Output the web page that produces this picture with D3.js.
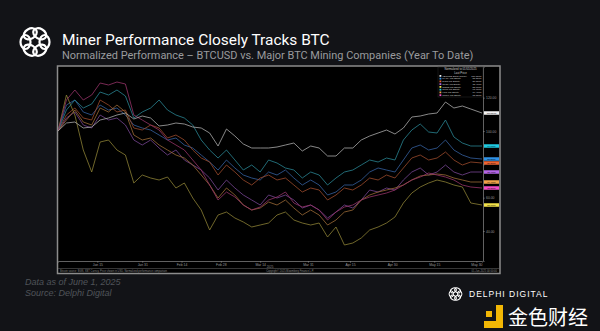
<!DOCTYPE html>
<html>
<head>
<meta charset="utf-8">
<script src="https://cdn.jsdelivr.net/npm/d3@7"></script>
<style>
  body { margin: 0; background: #121317; }
  svg { display: block; }
</style>
</head>
<body>
<svg id="chart"></svg>
<script>
// sample dates (every 3 days, Jan 1 -> Jun 1)
var dates = ["2025-01-01","2025-01-04","2025-01-07","2025-01-10","2025-01-13","2025-01-16","2025-01-19","2025-01-22","2025-01-25","2025-01-28",
  "2025-01-31","2025-02-03","2025-02-06","2025-02-09","2025-02-12","2025-02-15","2025-02-18","2025-02-21","2025-02-24","2025-02-27",
  "2025-03-02","2025-03-05","2025-03-08","2025-03-11","2025-03-14","2025-03-17","2025-03-20","2025-03-23","2025-03-26","2025-03-29",
  "2025-04-01","2025-04-04","2025-04-07","2025-04-10","2025-04-13","2025-04-16","2025-04-19","2025-04-22","2025-04-25","2025-04-28",
  "2025-05-01","2025-05-04","2025-05-07","2025-05-10","2025-05-13","2025-05-16","2025-05-19","2025-05-22","2025-05-25","2025-05-28","2025-06-01"];

// normalized performance (start = 100)
var btc  = [100,104.8,105.4,101.8,102.4,106.6,107.8,109.6,110.8,107.2,109.0,107.8,103.0,103.6,104.8,104.2,102.4,101.8,98.8,91.0,
  101.2,97.0,92.2,89.8,89.8,89.8,90.4,91.6,92.8,88.0,91.0,89.8,85.0,85.0,89.8,89.8,94.6,97.0,98.8,100.6,
  98.2,101.8,108.4,109.0,110.2,110.8,117.4,113.8,115.0,113.2,110.8];
var mara = [100,115.6,118.6,111.4,109.6,115.6,112.6,113.8,109.6,103.6,101.8,100.6,97.6,94.6,95.8,91.6,89.8,85.6,81.4,76.6,
  82.6,77.8,73.6,71.8,70.6,75.4,73.6,76.6,71.8,67.6,70.6,67.6,61.6,63.4,67.6,67.6,70.6,75.4,77.8,76.6,
  75.4,82.6,89.8,91.6,88.6,89.8,94.6,88.6,85.6,83.8,83.2];
var riot = [100,109.6,113.8,107.8,106.6,118.6,115.6,111.4,112.6,101.8,100.6,103.6,101.8,95.8,97.6,94.6,88.6,83.8,81.4,73.6,
  79.6,75.4,70.6,67.6,71.8,73.6,70.6,71.8,67.6,63.4,65.8,64.6,58.6,61.6,65.8,64.6,67.6,71.8,70.6,73.6,
  71.8,77.8,83.8,85.6,82.6,83.8,87.4,82.6,79.6,81.4,80.8];
var clsk = [100,107.8,111.4,103.6,101.8,109.6,106.6,107.8,103.6,94.6,91.6,94.6,89.8,85.6,88.6,82.6,79.6,76.6,71.8,64.6,
  70.6,65.8,61.6,58.6,55.6,61.6,59.8,61.6,58.6,53.8,55.6,52.6,47.8,51.4,55.6,53.8,58.6,64.6,63.4,65.8,
  64.6,70.6,75.4,77.8,73.6,75.4,79.6,75.4,73.6,75.4,75.4];
var corz = [100,121.6,109.6,88.6,75.4,93.4,94.6,88.6,85.6,68.8,73.6,71.8,70.6,72.4,65.8,68.8,59.8,52.6,40.6,49.6,
  51.4,47.8,45.4,42.4,43.6,44.8,49.6,51.4,46.6,44.8,43.6,44.8,36.4,42.4,31.6,32.8,35.8,40.6,42.4,44.8,
  48.4,56.8,62.8,66.4,68.8,70.6,69.4,67.6,66.4,56.8,55.6];
var cifr = [100,112.6,118.6,113.8,116.2,123.4,121.6,124.6,121.0,107.8,111.4,113.8,118.6,112.6,109.6,107.8,103.6,94.6,88.6,83.8,
  88.6,82.6,76.6,79.6,75.4,82.6,80.8,77.8,76.6,71.8,75.4,73.6,67.6,71.8,75.4,76.6,79.6,82.6,81.4,83.8,
  82.6,94.6,100.6,104.2,99.4,98.8,106.6,96.4,92.8,91.0,91.0];
var hut  = [100,106.6,112.6,105.4,103.6,113.8,111.4,115.6,111.4,97.6,94.6,95.8,91.6,88.6,85.6,83.8,79.6,73.6,67.6,59.8,
  65.8,61.6,55.6,52.6,53.8,57.4,55.6,58.6,53.8,49.6,52.6,49.6,43.6,46.6,51.4,52.6,58.6,61.6,63.4,64.6,
  65.8,67.6,70.6,73.0,73.6,74.2,73.6,71.8,70.6,69.4,69.4];
var wulf = [100,118.6,124.6,118.6,121.6,128.8,127.6,129.4,128.2,109.6,106.6,103.6,100.6,94.6,91.6,88.6,82.6,76.6,67.6,58.6,
  63.4,60.4,55.6,52.6,54.4,58.6,60.4,63.4,56.8,54.4,55.6,52.6,46.6,51.4,54.4,55.6,58.6,60.4,61.6,62.8,
  64.6,67.6,70.6,72.4,74.8,73.6,72.4,70.6,67.6,66.4,65.8];

var seriesNames = ["XBTUSD BGN Curncy","MARA US Equity","RIOT US Equity","CLSK US Equity","CORZ US Equity","CIFR US Equity","HUT US Equity","WULF US Equity"];
var seriesValues = [btc, mara, riot, clsk, corz, cifr, hut, wulf];
var lineColors = ["#a9a9a9","#35609e","#9a4a2c","#764592","#8c8035","#2a8492","#9a6a36","#953468"];
var boxColors  = ["#f2f2f2","#2f92e6","#ec6433","#b466e6","#f1e14a","#1fc9e0","#f0a24a","#f14cc4"];

var yTicks = [40, 60, 80, 100, 120];
var xTickDates  = ["2025-01-15","2025-01-31","2025-02-14","2025-02-28","2025-03-14","2025-03-31","2025-04-15","2025-04-30","2025-05-15","2025-05-30"];
var xTickLabels = ["Jan 15","Jan 31","Feb 14","Feb 28","Mar 14","Mar 31","Apr 15","Apr 30","May 15","May 30"];

var width = 600, height = 331;
var parse = d3.timeParse("%Y-%m-%d");

var svg = d3.select("#chart")
  .attr("width", width)
  .attr("height", height)
  .style("font-family", "'Liberation Sans', Arial, sans-serif");

svg.append("rect").attr("width", width).attr("height", height).attr("fill", "#121317");

// fit a text to a target width by scaling its font size
function fitText(sel, target) {
  var fs = parseFloat(sel.style("font-size"));
  var w = sel.node().getComputedTextLength();
  sel.style("font-size", (fs * target / w) + "px");
}

// ---- header logo (ring of loops)
var logo = svg.append("g").attr("transform", "translate(35,42)");
d3.range(6).forEach(function(i) {
  var a = i * Math.PI / 3;
  logo.append("ellipse")
    .attr("cx", Math.cos(a) * 9.5).attr("cy", Math.sin(a) * 9.5)
    .attr("rx", 7).attr("ry", 5)
    .attr("transform", "rotate(" + (i * 60 + 90) + "," + (Math.cos(a) * 9.5) + "," + (Math.sin(a) * 9.5) + ")")
    .attr("fill", "none").attr("stroke", "#fff").attr("stroke-width", 2.2);
});

var title = svg.append("text").attr("x", 62).attr("y", 45)
  .attr("fill", "#fff").style("font-family", "Roboto, sans-serif").style("font-size", "17px")
  .text("Miner Performance Closely Tracks BTC");
fitText(title, 268);
var sub = svg.append("text").attr("x", 62).attr("y", 59)
  .attr("fill", "#9a9b9e").style("font-family", "Roboto, sans-serif").style("font-size", "11.5px")
  .text("Normalized Performance \u2013 BTCUSD vs. Major BTC Mining Companies (Year To Date)");
fitText(sub, 412);

// ---- bloomberg-style frame
svg.append("rect").attr("x", 57.5).attr("y", 66).attr("width", 442.5).attr("height", 207.5)
  .attr("fill", "#000").attr("stroke", "#8c8c8c").attr("stroke-width", 1.5);

var x = d3.scaleTime().domain([parse("2025-01-01"), parse("2025-06-01")]).range([58, 482]);
var y = d3.scaleLinear().domain([22, 138.4]).range([261, 67]);

svg.append("clipPath").attr("id", "plotclip")
  .append("rect").attr("x", 58).attr("y", 67).attr("width", 425).attr("height", 194);

var line = d3.line()
  .x(function(d) { return x(d.date); })
  .y(function(d) { return y(d.value); });

var series = seriesValues.map(function(vals, i) {
  return {
    name: seriesNames[i],
    color: lineColors[i],
    box: boxColors[i],
    last: vals[vals.length - 1],
    points: vals.map(function(v, j) { return {date: parse(dates[j]), value: v}; })
  };
});

// draw BTC last so it sits on top
svg.append("g").attr("clip-path", "url(#plotclip)")
  .selectAll("path")
  .data(series.slice(1).concat([series[0]]))
  .enter().append("path")
    .attr("d", function(d) { return line(d.points); })
    .attr("fill", "none")
    .attr("stroke", function(d) { return d.color; })
    .attr("stroke-width", 0.8)
    .attr("stroke-linejoin", "round");

// bottom axis
var xAxis = svg.append("g").attr("transform", "translate(0,261)")
  .call(d3.axisBottom(x)
    .tickValues(xTickDates.map(parse))
    .tickFormat(function(d, i) { return xTickLabels[i]; })
    .tickSize(1.5).tickPadding(1));
xAxis.select(".domain").attr("stroke", "#7a7a7a").attr("stroke-width", 0.8);
xAxis.selectAll(".tick line").attr("stroke", "#7a7a7a");
xAxis.selectAll("text").attr("fill", "#9a9a9a").style("font-size", "3.4px");

svg.append("text").attr("x", 270).attr("y", 267.6).attr("text-anchor", "middle")
  .attr("fill", "#8a8a8a").style("font-size", "3px").text("2025");

// right axis (tick labels hidden where a last-value box covers them)
var yAxis = svg.append("g").attr("transform", "translate(483,0)")
  .call(d3.axisRight(y).tickValues(yTicks)
    .tickFormat(function(d) {
      var covered = series.some(function(s) { return Math.abs(y(s.last) - y(d)) < 4; });
      return covered ? "" : d3.format(".2f")(d);
    })
    .tickSize(1.5).tickPadding(1.5));
yAxis.select(".domain").attr("stroke", "#7a7a7a").attr("stroke-width", 0.8);
yAxis.selectAll(".tick line").attr("stroke", "#7a7a7a");
yAxis.selectAll("text").attr("fill", "#9a9a9a").style("font-size", "3.4px");

// last value boxes
var boxes = svg.append("g").selectAll("g")
  .data(series).enter().append("g")
  .attr("transform", function(d) { return "translate(484," + y(d.last) + ")"; });
boxes.append("rect").attr("x", 0).attr("y", -1.75).attr("width", 15).attr("height", 3.5)
  .attr("fill", function(d) { return d.box; });
boxes.append("text").attr("x", 7.5).attr("y", 0.8).attr("text-anchor", "middle")
  .attr("fill", "#000").style("font-size", "2.3px")
  .text(function(d) { return d3.format(".4f")(d.last); });

// legend
var lg = svg.append("g").attr("transform", "translate(438,67)");
lg.append("rect").attr("width", 45).attr("height", 30).attr("fill", "#000").attr("stroke", "#333").attr("stroke-width", 0.4);
lg.append("text").attr("x", 22.5).attr("y", 3.4).attr("text-anchor", "middle")
  .attr("fill", "#cfcfcf").style("font-size", "2.8px").text("Normalized to 01/01/2025");
lg.append("text").attr("x", 22.5).attr("y", 6.6).attr("text-anchor", "middle")
  .attr("fill", "#cfcfcf").style("font-size", "2.8px").text("Last Price");
var rows = lg.selectAll("g.row").data(series).enter().append("g")
  .attr("transform", function(d, i) { return "translate(0," + (9.6 + i * 2.75) + ")"; });
rows.append("rect").attr("x", 1.5).attr("y", -1.6).attr("width", 1.8).attr("height", 1.8)
  .attr("fill", function(d) { return d.box; });
rows.append("text").attr("x", 4.2).attr("y", 0).attr("fill", "#d0d0d0").style("font-size", "2.5px")
  .text(function(d) { return d.name; });
rows.append("text").attr("x", 43.5).attr("y", 0).attr("text-anchor", "end").attr("fill", "#d0d0d0").style("font-size", "2.5px")
  .text(function(d) { return d3.format(".4f")(d.last); });

// footer strip inside frame
svg.append("line").attr("x1", 58).attr("x2", 499).attr("y1", 268.5).attr("y2", 268.5)
  .attr("stroke", "#5a5a5a").attr("stroke-width", 0.6);
svg.append("text").attr("x", 60).attr("y", 271.6).attr("fill", "#8a8a8a").style("font-size", "2.6px")
  .text("Bitcoin source: BGN, XBT Curncy, Price shown in USD, Normalized performance comparison");
svg.append("text").attr("x", 290).attr("y", 271.6).attr("text-anchor", "middle").attr("fill", "#8a8a8a").style("font-size", "2.6px")
  .text("Copyright\u00a9 2025 Bloomberg Finance L.P.");
svg.append("text").attr("x", 497).attr("y", 271.6).attr("text-anchor", "end").attr("fill", "#8a8a8a").style("font-size", "2.6px")
  .text("01-Jun-2025 00:00:00");

// notes
svg.append("text").attr("x", 25).attr("y", 285).attr("fill", "#505359")
  .style("font-size", "9px").style("font-style", "italic").text("Data as of June 1, 2025");
svg.append("text").attr("x", 25).attr("y", 296).attr("fill", "#505359")
  .style("font-size", "9px").style("font-style", "italic").text("Source: Delphi Digital");

// delphi digital mark
var dl = svg.append("g").attr("transform", "translate(455.5,294)");
d3.range(6).forEach(function(i) {
  var a = i * Math.PI / 3;
  dl.append("ellipse")
    .attr("cx", Math.cos(a) * 4.2).attr("cy", Math.sin(a) * 4.2)
    .attr("rx", 3.1).attr("ry", 2.2)
    .attr("transform", "rotate(" + (i * 60 + 90) + "," + (Math.cos(a) * 4.2) + "," + (Math.sin(a) * 4.2) + ")")
    .attr("fill", "none").attr("stroke", "#fff").attr("stroke-width", 1);
});
svg.append("text").attr("x", 469).attr("y", 297).attr("fill", "#fff")
  .style("font-size", "8.5px").style("letter-spacing", "1px").text("DELPHI DIGITAL");

// jinse mark
var js = svg.append("g").attr("fill", "#f2b705");
js.append("rect").attr("x", 496).attr("y", 305).attr("width", 7).attr("height", 23);
js.append("rect").attr("x", 484).attr("y", 321).attr("width", 19).attr("height", 7);
js.append("rect").attr("x", 486).attr("y", 311).attr("width", 6).attr("height", 6);
svg.append("text").attr("x", 508).attr("y", 325).attr("fill", "#fff")
  .style("font-family", "'Noto Sans CJK SC', sans-serif").style("font-size", "20px")
  .text("金色财经");
</script>
</body>
</html>
